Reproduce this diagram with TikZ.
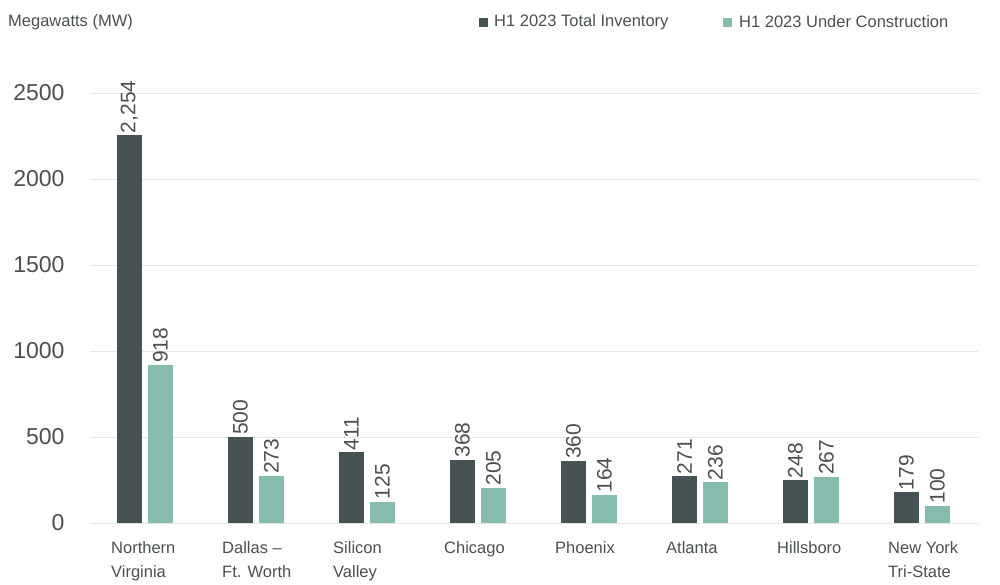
\documentclass[tikz,border=0pt]{standalone}
\usepackage{fontspec}
\setmainfont{Liberation Sans}
\definecolor{dark}{HTML}{465355}
\definecolor{light}{HTML}{85BCAE}
\definecolor{txt}{HTML}{4A4F50}
\definecolor{grid}{HTML}{E6E6E6}
\begin{document}
\begin{tikzpicture}[x=1pt,y=-1pt,
  ylab/.style={anchor=east,text=txt,font=\fontsize{23}{23}\selectfont},
  vlab/.style={rotate=90,anchor=west,text=txt,font=\fontsize{21}{21}\selectfont,inner sep=2pt},
  clab/.style={anchor=north west,align=left,text=txt,font=\fontsize{16.5}{24}\selectfont,inner sep=0pt},
  leg/.style={anchor=west,text=txt,font=\fontsize{16.5}{17}\selectfont,inner sep=0pt}]
\useasboundingbox (0,0) rectangle (1000,584);
\foreach \v in {0,500,1000,1500,2000,2500}{
  \draw[grid,line width=0.8pt] (90,{523-0.172*\v}) -- (978,{523-0.172*\v});
  \node[ylab] (y\v) at (68,{523-0.172*\v}) {\v};
}
\node[leg] (mw) at (8,22) {Megawatts (MW)};
\fill[dark] (479,18) rectangle (488,27);
\node[leg] (l1) at (494,22) {H1 2023 Total Inventory};
\fill[light] (723,18) rectangle (732,27);
\node[leg] (l2) at (739,22) {H1 2023 Under Construction};
\foreach \i/\a/\b/\as/\bs/\name in {
  0/2254/918/{2,254}/918/{Northern\\Virginia},
  1/500/273/500/273/{Dallas –\\Ft. Worth},
  2/411/125/411/125/{Silicon\\Valley},
  3/368/205/368/205/{Chicago},
  4/360/164/360/164/{Phoenix},
  5/271/236/271/236/{Atlanta},
  6/248/267/248/267/{Hillsboro},
  7/179/100/179/100/{New York\\Tri-State}}{
  \pgfmathsetmacro\xa{117+111*\i}
  \fill[dark] (\xa,523) rectangle ({\xa+25},{523-0.172*\a});
  \fill[light] ({\xa+31},523) rectangle ({\xa+56},{523-0.172*\b});
  \node[vlab] (va\i) at ({\xa+12.5},{523-0.172*\a}) {\as};
  \node[vlab] (vb\i) at ({\xa+43.5},{523-0.172*\b}) {\bs};
  \node[clab] (c\i) at ({\xa-6},541) {\name};
}
\end{tikzpicture}
\end{document}
